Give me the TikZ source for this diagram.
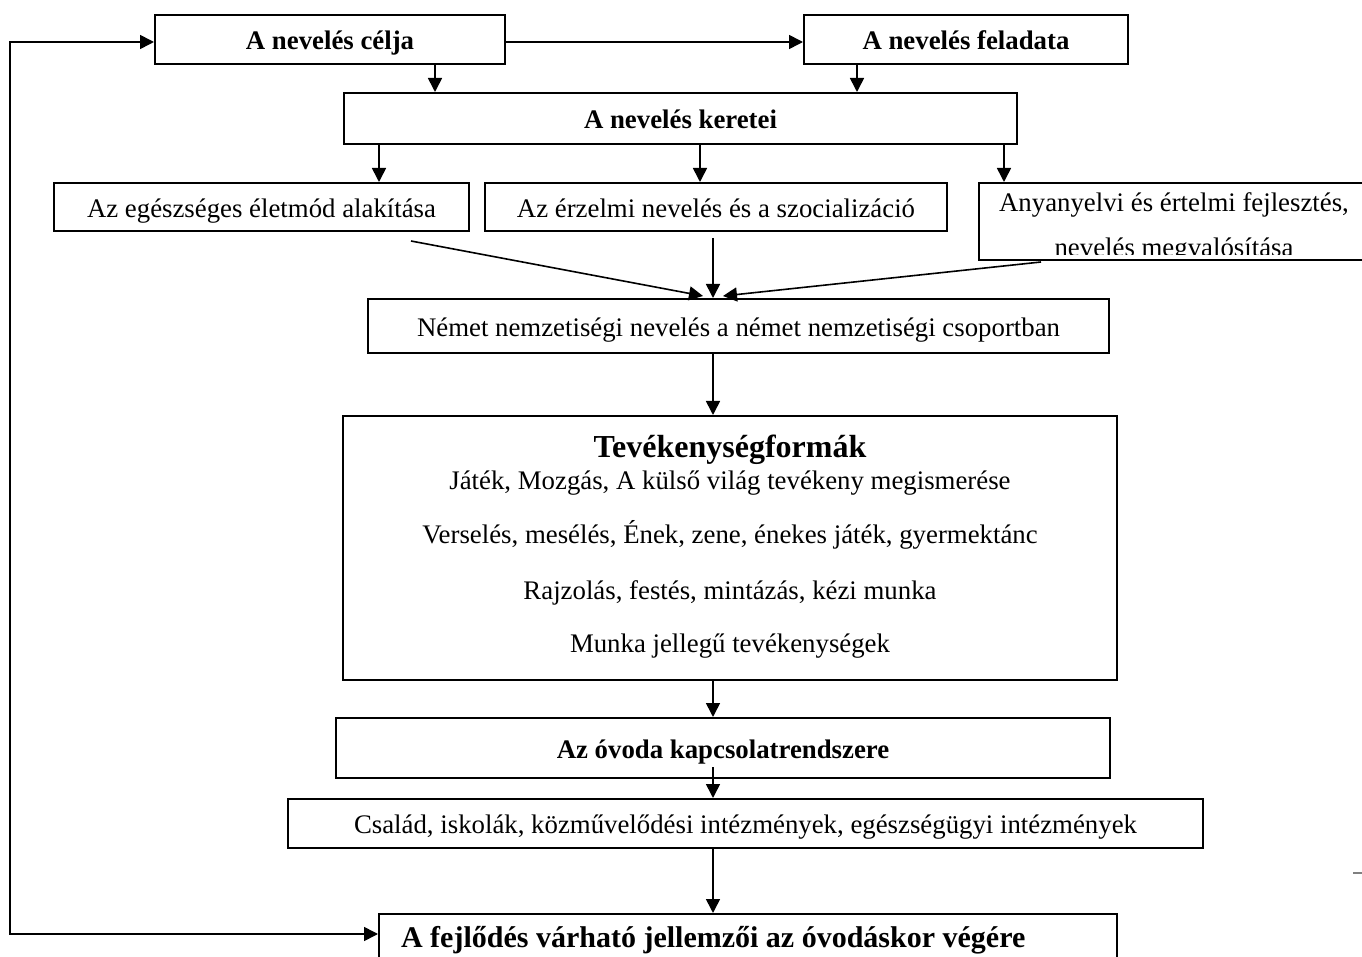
\documentclass[tikz,border=0pt]{standalone}
\usepackage{fontspec}
\setmainfont{Liberation Serif}
\usetikzlibrary{arrows.meta,calc}

\tikzset{
  doboz/.style={draw, line width=1pt, inner sep=0pt, align=center, text height=1.15em, text depth=0.12em},
  hegy/.tip={Triangle[length=7pt,width=7pt]},
  nyil/.style={-hegy, line width=0.8pt},
  fej/.style={font=\fontsize{13.4}{15}\selectfont\bfseries},
  szov/.style={font=\fontsize{13.4}{16}\selectfont},
}

\begin{document}
\begin{tikzpicture}[x=0.5pt,y=-0.5pt]
        \useasboundingbox (0,0) rectangle (1362,957);

        % felso sor
        \node[doboz, fej, minimum width=175pt, minimum height=24.5pt] (celja) at (330,39.5) {A nevelés célja};
        \node[doboz, fej, minimum width=162pt, minimum height=24.5pt] (feladata) at (966,39.5) {A nevelés feladata};
        \node[doboz, fej, minimum width=336.5pt, minimum height=25.5pt] (keretei) at (680.5,118.5) {A nevelés keretei};

        % keretek
        \node[doboz, szov, minimum width=207.5pt, minimum height=24pt] (egesz) at (261.5,207) {Az egészséges életmód alakítása};
        \node[doboz, szov, minimum width=231pt, minimum height=24pt] (erzelmi) at (716,207) {Az érzelmi nevelés és a szocializáció};
        \node[doboz, minimum width=195pt, minimum height=38.5pt, text height=, text depth=] (anyanyelvi) at (1174,221.5) {};
        \begin{scope}
            \clip ($(anyanyelvi.south west)+(0,-6)$) rectangle (anyanyelvi.north east);
            \node[anchor=base, font=\fontsize{13.4}{16}\selectfont] (any1) at (1174,212) {Anyanyelvi és értelmi fejlesztés,};
            \node[anchor=base, font=\fontsize{13.4}{16}\selectfont] (any2) at (1174,257) {nevelés megvalósítása};
        \end{scope}

        \node[doboz, szov, minimum width=370.5pt, minimum height=27pt] (nemet) at (738.5,326) {Német nemzetiségi nevelés a német nemzetiségi csoportban};

        % tevekenysegformak
        \node[doboz, minimum width=387pt, minimum height=132pt, text height=, text depth=] (tev) at (730,548) {};
        \node[anchor=base, font=\fontsize{16}{19}\selectfont\bfseries] (tevcim) at (730,458) {Tevékenységformák};
        \node[anchor=base, szov] (tev1) at (730,490) {Játék, Mozgás, A külső világ tevékeny megismerése};
        \node[anchor=base, szov] (tev2) at (730,544) {Verselés, mesélés, Ének, zene, énekes játék, gyermektánc};
        \node[anchor=base, szov] (tev3) at (730,599) {Rajzolás, festés, mintázás, kézi munka};
        \node[anchor=base, szov] (tev4) at (730,653) {Munka jellegű tevékenységek};

        % kapcsolatok
        \node[doboz, fej, minimum width=387pt, minimum height=30pt] (ovoda) at (723,748) {Az óvoda kapcsolatrendszere};
        \node[doboz, szov, minimum width=457.5pt, minimum height=24.5pt] (csalad) at (745.5,823.5) {Család, iskolák, közművelődési intézmények, egészségügyi intézmények};

        \node[doboz, minimum width=369pt, minimum height=45pt, text height=, text depth=] (fejlodes) at (748,959) {};
        \node[anchor=base west, font=\fontsize{15}{18}\selectfont\bfseries] (fejszoveg) at (394,947) {A fejlődés várható jellemzői az óvodáskor végére};

        % visszacsatolas
        \coordinate (bal1) at (10,42);
        \coordinate (bal2) at (10,934);
        \draw[hegy-hegy, line width=0.8pt]
            (bal2 -| fejlodes.west) -- (bal2) -- (bal1) -- (bal1 -| celja.west);
        \draw[nyil] (bal1 -| celja.east) -- (bal1 -| feladata.west);

        % nyilak lefele
        \draw[nyil] ($(celja.south)+(105,0)$) coordinate (a1) -- (a1 |- keretei.north);
        \draw[nyil] ($(feladata.south)+(-109,0)$) coordinate (a2) -- (a2 |- keretei.north);
        \draw[nyil] ($(keretei.south)+(-301.5,0)$) coordinate (a3) -- (a3 |- egesz.north);
        \draw[nyil] ($(keretei.south)+(19.5,0)$) coordinate (a4) -- (a4 |- erzelmi.north);
        \draw[nyil] ($(keretei.south)+(323.5,0)$) coordinate (a5) -- (a5 |- anyanyelvi.north);

        \draw[nyil] ($(egesz.south)+(149.5,9)$) -- ($(nemet.north)+(-35.5,-2)$);
        \draw[nyil] ($(erzelmi.south)+(-3,6)$) coordinate (a6) -- (a6 |- nemet.north);
        \draw[nyil] ($(anyanyelvi.south)+(-133,1)$) -- ($(nemet.north)+(-15.5,-2)$);

        \draw[nyil] ($(nemet.south)+(-25.5,0)$) coordinate (a7) -- (a7 |- tev.north);
        \draw[nyil] (a7 |- tev.south) -- (a7 |- ovoda.north);
        \draw[nyil] ($(a7 |- ovoda.south)+(0,-12)$) -- (a7 |- csalad.north);
        \draw[nyil] (a7 |- csalad.south) -- (a7 |- fejlodes.north);

        \draw[gray, line width=0.6pt] (1353,873) -- (1362,873);
\end{tikzpicture}
\end{document}
